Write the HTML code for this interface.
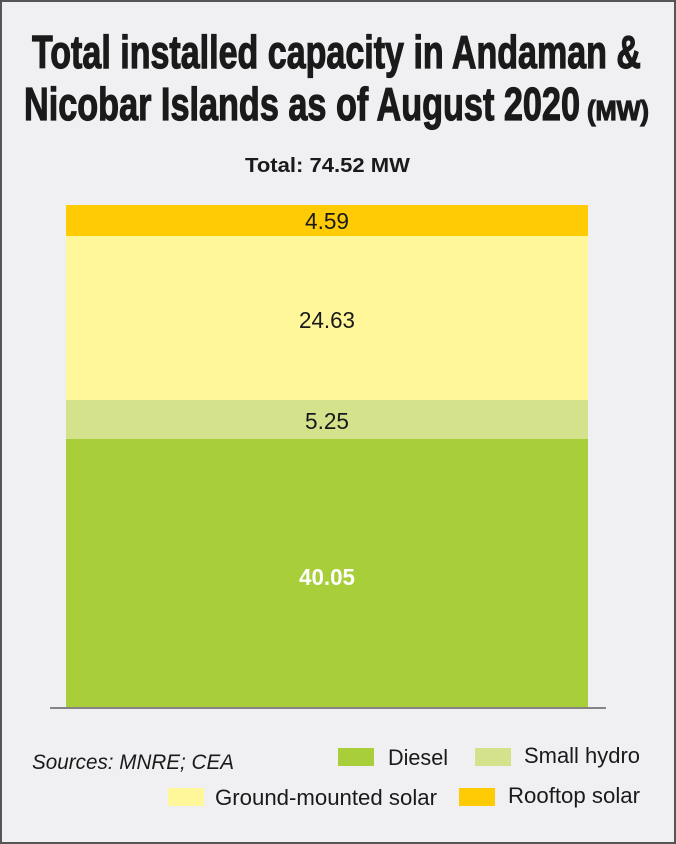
<!DOCTYPE html>
<html><head><meta charset="utf-8"><style>
html,body{margin:0;padding:0;background:#f0f0f2}
svg{display:block}
</style></head><body>
<svg width="676" height="844" viewBox="0 0 676 844" xmlns="http://www.w3.org/2000/svg" font-family="Liberation Sans, sans-serif">
<rect x="1" y="1" width="674" height="842" fill="#f0f0f2" stroke="#555" stroke-width="2"/>
<g fill="#1a1a1a" stroke="#1a1a1a" stroke-width="1.2">
<text x="32" y="68" font-size="46" font-weight="bold" textLength="609" lengthAdjust="spacingAndGlyphs">Total installed capacity in Andaman &amp;</text>
<text x="24" y="120" font-size="46" font-weight="bold" textLength="556" lengthAdjust="spacingAndGlyphs">Nicobar Islands as of August 2020</text>
<text x="587" y="120" font-size="28" font-weight="bold" textLength="62" lengthAdjust="spacingAndGlyphs">(MW)</text>
</g>
<text x="245" y="172" font-size="20" font-weight="bold" fill="#1a1a1a" textLength="165" lengthAdjust="spacingAndGlyphs">Total: 74.52 MW</text>
<rect x="66" y="205" width="522" height="31" fill="#ffcb05"/>
<rect x="66" y="236" width="522" height="164" fill="#fff799"/>
<rect x="66" y="400" width="522" height="39" fill="#d4e28c"/>
<rect x="66" y="439" width="522" height="268" fill="#a8cf3a"/>
<line x1="50" y1="708" x2="606" y2="708" stroke="#444" stroke-width="1.2"/>
<g font-size="23" fill="#1a1a1a" text-anchor="middle">
<text x="327" y="229" textLength="44" lengthAdjust="spacingAndGlyphs">4.59</text>
<text x="327" y="328" textLength="56" lengthAdjust="spacingAndGlyphs">24.63</text>
<text x="327" y="429" textLength="44" lengthAdjust="spacingAndGlyphs">5.25</text>
<text x="327" y="585" fill="#fff" font-weight="bold" textLength="56" lengthAdjust="spacingAndGlyphs">40.05</text>
</g>
<text x="32" y="769" font-size="21" font-style="italic" fill="#1a1a1a" textLength="202" lengthAdjust="spacingAndGlyphs">Sources: MNRE; CEA</text>
<rect x="338" y="748" width="36" height="18" fill="#a8cf3a"/>
<text x="388" y="765" font-size="22" fill="#1a1a1a" textLength="60" lengthAdjust="spacingAndGlyphs">Diesel</text>
<rect x="475" y="748" width="36" height="18" fill="#d4e28c"/>
<text x="524" y="763" font-size="22" fill="#1a1a1a" textLength="116" lengthAdjust="spacingAndGlyphs">Small hydro</text>
<rect x="168" y="788" width="36" height="18" fill="#fff799"/>
<text x="215" y="805" font-size="22" fill="#1a1a1a" textLength="222" lengthAdjust="spacingAndGlyphs">Ground-mounted solar</text>
<rect x="459" y="788" width="36" height="18" fill="#ffcb05"/>
<text x="508" y="803" font-size="22" fill="#1a1a1a" textLength="132" lengthAdjust="spacingAndGlyphs">Rooftop solar</text>
</svg>
</body></html>
